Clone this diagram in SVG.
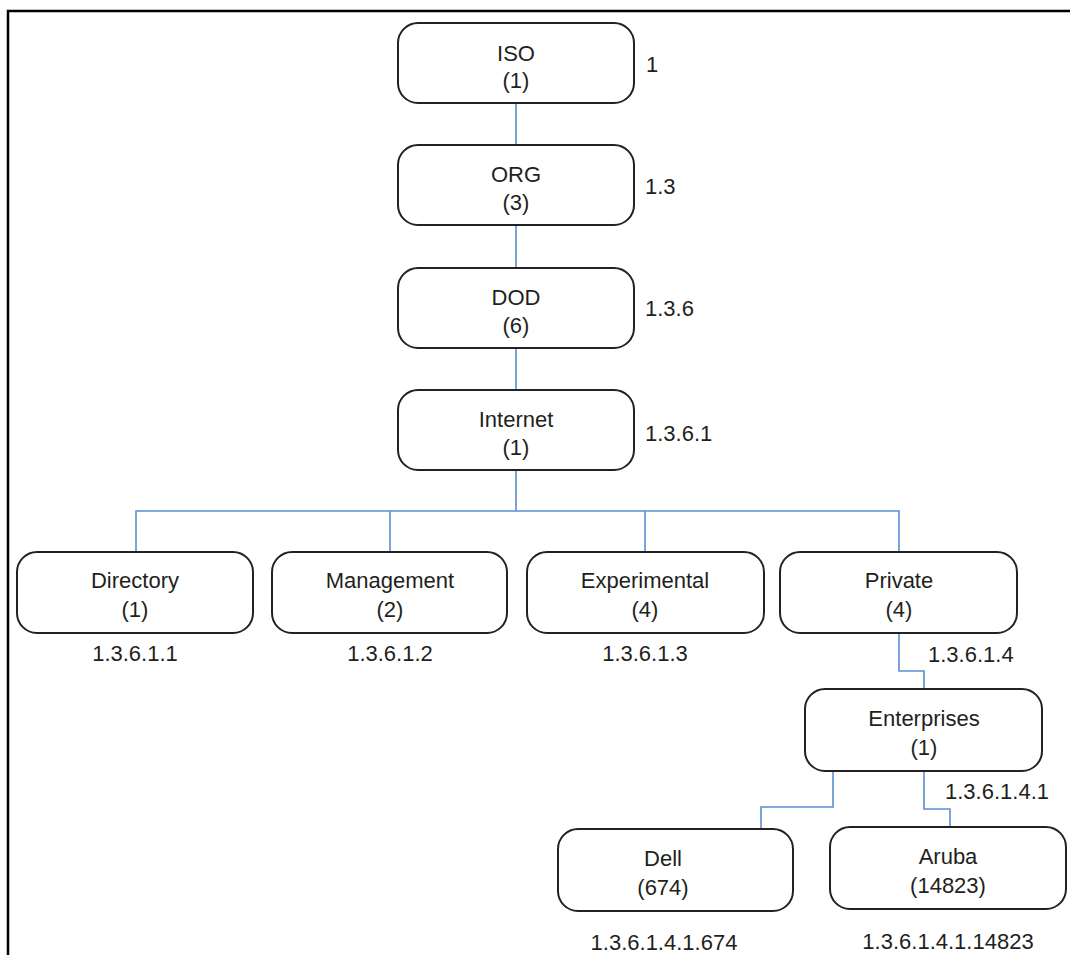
<svg xmlns="http://www.w3.org/2000/svg" width="1070" height="955" viewBox="0 0 1070 955">
<style>
.box{fill:#fff;stroke:#222;stroke-width:2}
.t{font-family:"Liberation Sans",Arial,sans-serif;font-size:22px;fill:#231f20;text-anchor:middle}
.l{font-family:"Liberation Sans",Arial,sans-serif;font-size:22px;fill:#231f20}
.c{fill:none;stroke:#5b8fd0;stroke-width:1.6}
</style>
<rect x="0" y="0" width="1070" height="955" fill="#fff"/>
<path d="M8,955 V11 H1070" fill="none" stroke="#000" stroke-width="2.5"/>
<g id="connectors">
<path class="c" d="M516,103 V145"/>
<path class="c" d="M516,225 V268"/>
<path class="c" d="M516,348 V390"/>
<path class="c" d="M516,470 V511"/>
<path class="c" d="M136,552 V511 H899 V552"/>
<path class="c" d="M390,511 V552"/>
<path class="c" d="M645,511 V552"/>
<path class="c" d="M899,633 V671 H924 V689"/>
<path class="c" d="M833,771 V807 H761 V829"/>
<path class="c" d="M924,771 V809 H950 V827"/>
</g>
<g id="iso"><rect class="box" x="398" y="23" width="236" height="80" rx="20"/><text class="t" x="516" y="61">ISO</text><text class="t" x="516" y="88">(1)</text><text class="l" x="646" y="72">1</text></g>
<g id="org"><rect class="box" x="398" y="145" width="236" height="80" rx="20"/><text class="t" x="516" y="182">ORG</text><text class="t" x="516" y="210">(3)</text><text class="l" x="645" y="194">1.3</text></g>
<g id="dod"><rect class="box" x="398" y="268" width="236" height="80" rx="20"/><text class="t" x="516" y="305">DOD</text><text class="t" x="516" y="333">(6)</text><text class="l" x="645" y="316">1.3.6</text></g>
<g id="internet"><rect class="box" x="398" y="390" width="236" height="80" rx="20"/><text class="t" x="516" y="427">Internet</text><text class="t" x="516" y="455">(1)</text><text class="l" x="645" y="441">1.3.6.1</text></g>
<g id="directory"><rect class="box" x="17" y="552" width="236" height="81" rx="20"/><text class="t" x="135" y="588">Directory</text><text class="t" x="135" y="617">(1)</text><text class="t" x="135" y="661">1.3.6.1.1</text></g>
<g id="management"><rect class="box" x="272" y="552" width="235" height="81" rx="20"/><text class="t" x="390" y="588">Management</text><text class="t" x="390" y="617">(2)</text><text class="t" x="390" y="661">1.3.6.1.2</text></g>
<g id="experimental"><rect class="box" x="527" y="552" width="237" height="81" rx="20"/><text class="t" x="645" y="588">Experimental</text><text class="t" x="645" y="617">(4)</text><text class="t" x="645" y="661">1.3.6.1.3</text></g>
<g id="private"><rect class="box" x="780" y="552" width="237" height="81" rx="20"/><text class="t" x="899" y="588">Private</text><text class="t" x="899" y="617">(4)</text><text class="l" x="928" y="662">1.3.6.1.4</text></g>
<g id="enterprises"><rect class="box" x="805" y="689" width="237" height="82" rx="20"/><text class="t" x="924" y="726">Enterprises</text><text class="t" x="924" y="755">(1)</text><text class="l" x="945" y="799">1.3.6.1.4.1</text></g>
<g id="dell"><rect class="box" x="558" y="829" width="235" height="82" rx="20"/><text class="t" x="663" y="866">Dell</text><text class="t" x="663" y="895">(674)</text><text class="t" x="664" y="950">1.3.6.1.4.1.674</text></g>
<g id="aruba"><rect class="box" x="830" y="827" width="236" height="82" rx="20"/><text class="t" x="948" y="864">Aruba</text><text class="t" x="948" y="893">(14823)</text><text class="t" x="948" y="949">1.3.6.1.4.1.14823</text></g>
</svg>
